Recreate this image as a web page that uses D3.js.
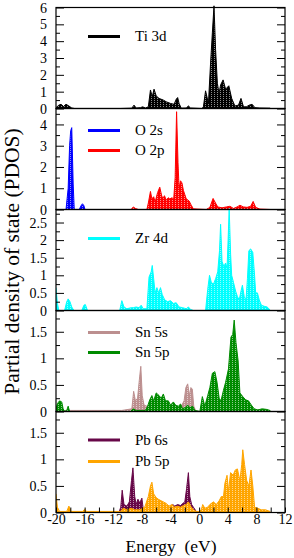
<!DOCTYPE html>
<html><head><meta charset="utf-8">
<script src="https://cdn.jsdelivr.net/npm/d3@7"></script>
<style>body{margin:0;background:#fff}svg{display:block}text{font-family:"Liberation Serif","Times New Roman",serif;fill:#000}</style>
</head><body>
<script>
// ---------- data (Energy eV, PDOS) ----------
const xTicks = [-20,-16,-12,-8,-4,0,4,8,12];
const xMinorTicks = [-20,-18,-16,-14,-12,-10,-8,-6,-4,-2,0,2,4,6,8,10,12];

const ti3d = [[-20,0.05],[-19.6,0.2],[-19.3,0.25],[-18.95,0.12],[-18.6,0.25],[-18.2,0.15],[-17.8,0.03],[-17.4,0],[-11,0],[-9.4,0.02],[-9.1,0.2],[-8.8,0.03],[-8.2,0.05],[-7.9,0.1],[-7.5,0.03],[-7.1,0.1],[-6.8,1.1],[-6.55,0.7],[-6.3,1.15],[-6.0,0.75],[-5.6,0.6],[-5.0,0.5],[-4.6,0.4],[-4.0,0.3],[-3.5,0.25],[-3.2,0.55],[-3.0,0.65],[-2.8,0.3],[-2.5,0.02],[-1.8,0.03],[-1.5,0.15],[-1.2,0.03],[0.4,0],[0.6,0.1],[0.9,1.05],[1.3,0.3],[1.6,2.7],[1.85,4.5],[2.08,6.1],[2.3,3.5],[2.55,1.5],[2.78,0.9],[3.0,1.4],[3.35,1.7],[3.7,1.15],[4.15,1.35],[4.55,0.6],[5.0,0.15],[5.5,0.2],[5.85,0.6],[6.2,0.1],[6.6,0.1],[7.0,0.2],[7.4,0.25],[7.8,0.05],[8.5,0.03],[9.9,0.02],[10,0]];

const o2s = [[-20,0],[-18.6,0],[-18.3,1.0],[-18.1,3.0],[-17.95,3.7],[-17.8,3.85],[-17.6,1.2],[-17.45,0],[-16.75,0],[-16.5,0.18],[-16.3,0.27],[-16.1,0.18],[-15.95,0],[10,0]];
const o2p = [[-20,0],[-9.5,0],[-9.2,0.12],[-8.9,0.05],[-8.5,0],[-7.3,0],[-7.1,0.3],[-6.8,0.85],[-6.6,0.5],[-6.35,0.6],[-6.15,0.35],[-5.8,0.8],[-5.5,1.05],[-5.2,0.6],[-5.0,0.55],[-4.85,0.65],[-4.6,0.45],[-4.3,0.55],[-4.1,0.5],[-3.8,0.55],[-3.55,0.5],[-3.35,1.5],[-3.15,4.6],[-2.95,2.2],[-2.8,1.0],[-2.6,1.35],[-2.4,1.25],[-2.2,0.9],[-1.8,0.5],[-1.4,0.4],[-1.1,0.2],[-0.8,0.03],[1.0,0],[1.5,0.1],[1.95,0.52],[2.3,0.3],[2.6,0.12],[3.2,0.08],[3.8,0.12],[4.3,0.15],[4.8,0.05],[5.3,0.12],[5.7,0.2],[6.2,0.12],[6.7,0.1],[7.2,0.15],[7.55,0.38],[7.9,0.1],[8.5,0.02],[10,0]];

const zr4d = [[-20,0.65],[-19.8,0.2],[-19.6,0],[-18.8,0],[-18.5,0.25],[-18.3,0.33],[-18.05,0.25],[-17.8,0.1],[-17.5,0],[-16.4,0],[-16.1,0.15],[-15.9,0.17],[-15.6,0],[-11.1,0],[-10.8,0.28],[-10.5,0.1],[-10.1,0.05],[-9.5,0.08],[-9.2,0.08],[-8.8,0.1],[-8.4,0.08],[-8.1,0.15],[-7.8,0.05],[-7.3,0.05],[-7.0,0.95],[-6.7,1.1],[-6.55,1.28],[-6.35,0.9],[-6.15,0.5],[-5.9,0.65],[-5.65,0.5],[-5.4,0.65],[-5.15,0.45],[-4.8,0.3],[-4.4,0.25],[-4.0,0.28],[-3.6,0.2],[-3.2,0.22],[-2.8,0.1],[-2.3,0.08],[-1.8,0.05],[-1.5,0.1],[-1.2,0.03],[-0.8,0],[0.9,0],[1.2,0.6],[1.45,1.0],[1.7,0.8],[2.0,0.75],[2.3,0.9],[2.6,1.1],[2.85,1.7],[3.0,2.45],[3.2,1.4],[3.45,1.25],[3.7,1.35],[3.9,1.2],[4.05,2.0],[4.2,2.9],[4.4,1.6],[4.55,1.0],[4.8,0.8],[5.1,0.55],[5.35,0.4],[5.6,0.3],[5.85,0.55],[6.05,0.72],[6.3,0.4],[6.55,0.3],[6.75,0.9],[6.95,1.7],[7.2,1.75],[7.5,1.65],[7.75,1.0],[7.9,0.5],[8.15,0.5],[8.4,0.3],[8.7,0.15],[9.1,0.12],[9.5,0.1],[9.9,0.02],[10,0]];

const sn5s = [[-20,0.02],[-10.8,0.02],[-9.4,0.05],[-9.15,0.38],[-8.9,0.2],[-8.6,0.25],[-8.35,0.6],[-8.15,0.85],[-7.95,0.3],[-7.7,0.12],[-7.3,0.1],[-6.5,0.08],[-5,0.08],[-3.5,0.08],[-2.5,0.1],[-2.1,0.2],[-1.85,0.45],[-1.6,0.52],[-1.35,0.3],[-1.15,0.45],[-0.95,0.42],[-0.75,0.1],[-0.5,0.02],[0,0],[8,0.03],[9.5,0.03],[10,0]];
const sn5p = [[-20,0.05],[-19.8,0.15],[-19.5,0.2],[-19.2,0.18],[-19.0,0.05],[-18.8,0],[-18.5,0.02],[-18.3,0.1],[-18.1,0],[-9.6,0],[-9.2,0.05],[-8.8,0.02],[-7.5,0.02],[-7.2,0.1],[-6.9,0.22],[-6.6,0.3],[-6.35,0.2],[-6.0,0.35],[-5.6,0.3],[-5.3,0.25],[-5.0,0.33],[-4.7,0.2],[-4.3,0.2],[-4.0,0.12],[-3.6,0.18],[-3.3,0.12],[-2.9,0.1],[-2.6,0.14],[-2.3,0.05],[-1.9,0.08],[-1.6,0.12],[-1.3,0.07],[-0.9,0.1],[-0.6,0.02],[0.1,0],[0.45,0.28],[0.8,0.1],[1.2,0.3],[1.5,0.45],[1.85,0.72],[2.2,0.75],[2.5,0.55],[2.8,0.25],[3.05,0.2],[3.4,0.4],[3.7,0.55],[4.1,0.8],[4.45,1.4],[4.7,1.45],[4.9,1.72],[5.15,1.3],[5.45,0.95],[5.7,0.35],[6.1,0.28],[6.5,0.22],[6.9,0.2],[7.3,0.12],[7.7,0.05],[8.2,0.03],[8.8,0.05],[9.4,0.04],[9.9,0.02],[10,0]];

const pb6s = [[-20,0],[-11.2,0],[-10.95,0.1],[-10.75,0.42],[-10.5,0.15],[-10.1,0.12],[-9.75,0.2],[-9.45,0.6],[-9.25,0.84],[-9.0,0.3],[-8.8,0.15],[-8.55,0.25],[-8.3,0.18],[-8.0,0.27],[-7.8,0.05],[-7.5,0],[-4.0,0.02],[-3.7,0.15],[-3.4,0.12],[-3.0,0.15],[-2.6,0.13],[-2.2,0.18],[-2.0,0.2],[-1.75,0.45],[-1.5,0.75],[-1.3,0.3],[-1.05,0.15],[-0.8,0.1],[-0.4,0.02],[0,0],[10,0]];
const pb5p = [[-20,0.35],[-19.8,0.1],[-19.5,0.02],[-18.5,0.02],[-18.2,0.12],[-17.9,0.02],[-16.3,0.02],[-16.0,0.06],[-15.7,0.02],[-11,0.02],[-10.6,0.08],[-10.1,0.05],[-9.5,0.08],[-9,0.05],[-8.3,0.05],[-7.6,0.1],[-7.1,0.3],[-6.8,0.5],[-6.6,0.57],[-6.35,0.35],[-6.0,0.28],[-5.7,0.25],[-5.3,0.22],[-5.0,0.2],[-4.6,0.17],[-4.2,0.12],[-3.8,0.15],[-3.4,0.1],[-3.0,0.12],[-2.6,0.1],[-2.2,0.13],[-1.8,0.15],[-1.5,0.2],[-1.2,0.12],[-0.8,0.05],[-0.4,0.02],[0,0.02],[0.3,0.05],[0.5,0.15],[0.8,0.08],[1.2,0.1],[1.5,0.15],[2.0,0.2],[2.4,0.15],[2.8,0.22],[3.1,0.3],[3.4,0.3],[3.6,0.55],[3.9,0.7],[4.1,0.4],[4.4,0.75],[4.75,0.7],[5.05,0.8],[5.35,0.82],[5.7,0.6],[5.95,0.9],[6.1,1.18],[6.35,0.9],[6.65,0.6],[6.95,0.5],[7.25,0.8],[7.5,0.5],[7.75,0.1],[8.2,0.08],[8.7,0.05],[9.3,0.05],[9.9,0.02],[10,0]];

const seriesNames = ["Ti 3d","O 2s","O 2p","Zr 4d","Sn 5s","Sn 5p","Pb 6s","Pb 5p"];
const seriesColors = ["#000000","#0000ff","#ff0000","#00ffff","#bc8f8f","#008b00","#670748","#ffa500"];
const seriesData = [ti3d,o2s,o2p,zr4d,sn5s,sn5p,pb6s,pb5p];
const panelSeries = [[0],[1,2],[3],[4,5],[6,7]];
const panelYMax = [6,4.75,2.87,1.9,1.9];
const panelMajor = [1,1,0.5,0.5,0.5];
const panelTickMax = [6,4,2.5,1.5,1.5];

// ---------- layout ----------
const W=294,H=558, L=56, R=285, top0=7.5, ph=101;
const legendOffsets = [[29],[22,42],[29],[22,42],[28.5,50]];
const SERIF = "Liberation Serif";

const svg = d3.select("body").append("svg").attr("width",W).attr("height",H);
const defs = svg.append("defs");
seriesColors.forEach((c,i)=>{
  const p = defs.append("pattern").attr("id","pat"+i).attr("patternUnits","userSpaceOnUse")
    .attr("width",3).attr("height",2);
  p.append("rect").attr("width",3).attr("height",2).attr("fill",c);
  p.append("rect").attr("x",1).attr("y",0).attr("width",1).attr("height",1).attr("fill","#fff").attr("opacity",0.55);
});

const x = d3.scaleLinear().domain([-20,12]).range([L,R]);
const fmt = d => String(+d.toFixed(2));

panelSeries.forEach((idxs,pi)=>{
  const t = top0 + pi*ph, b = t+ph;
  const y = d3.scaleLinear().domain([0,panelYMax[pi]]).range([b,t]);
  const g = svg.append("g");
  const clipId = "clip"+pi;
  defs.append("clipPath").attr("id",clipId).append("rect").attr("x",L).attr("y",t-4).attr("width",R-L).attr("height",ph+4);
  const area = d3.area().x(d=>x(d[0])).y0(y(0)).y1(d=>y(d[1]));
  const line = d3.line().x(d=>x(d[0])).y(d=>y(d[1]));
  const dg = g.append("g").attr("clip-path",`url(#${clipId})`);
  idxs.forEach(si=>{
    dg.append("path").attr("d",area(seriesData[si])).attr("fill",`url(#pat${si})`).attr("stroke","none");
    dg.append("path").attr("d",line(seriesData[si])).attr("fill","none").attr("stroke",seriesColors[si]).attr("stroke-width",1);
  });
  const major = d3.range(0,panelTickMax[pi]+1e-9,panelMajor[pi]);
  const minor = d3.range(panelMajor[pi]/2,panelYMax[pi],panelMajor[pi]);
  const axL = g.append("g").attr("transform",`translate(${L},0)`)
    .call(d3.axisLeft(y).tickValues(major).tickFormat(fmt).tickSizeInner(-8).tickSizeOuter(0).tickPadding(9));
  g.append("g").attr("transform",`translate(${L},0)`)
    .call(d3.axisLeft(y).tickValues(minor).tickFormat("").tickSizeInner(-4).tickSizeOuter(0));
  g.append("g").attr("transform",`translate(${R},0)`)
    .call(d3.axisRight(y).tickValues(major).tickFormat("").tickSizeInner(-8).tickSizeOuter(0));
  g.append("g").attr("transform",`translate(${R},0)`)
    .call(d3.axisRight(y).tickValues(minor).tickFormat("").tickSizeInner(-4).tickSizeOuter(0));
  g.selectAll(".domain").remove();
  g.selectAll("g").attr("font-family",SERIF);
  g.selectAll(".tick line").attr("stroke","#000").attr("stroke-width",1);
  axL.selectAll("text").attr("font-size",14).attr("fill","#000").attr("dy","0.33em");
  g.append("rect").attr("x",L).attr("y",t).attr("width",R-L).attr("height",ph)
    .attr("fill","none").attr("stroke","#000").attr("stroke-width",1.2);
  idxs.forEach((si,k)=>{
    const ly = t + legendOffsets[pi][k];
    g.append("line").attr("x1",88).attr("x2",120).attr("y1",ly).attr("y2",ly)
      .attr("stroke",seriesColors[si]).attr("stroke-width",3);
    g.append("text").attr("x",135).attr("y",ly).attr("dy","0.33em").attr("font-size",15)
      .attr("font-family",SERIF).text(seriesNames[si]);
  });
  if(pi===panelSeries.length-1){
    const ax = g.append("g").attr("transform",`translate(0,${b})`)
      .call(d3.axisBottom(x).tickValues(xMinorTicks).tickFormat(d=>xTicks.includes(d)?String(d):"").tickSizeInner(-5).tickSizeOuter(0).tickPadding(1.5));
    ax.attr("font-family",SERIF);
    ax.select(".domain").remove();
    ax.selectAll(".tick line").attr("stroke","#000");
    ax.selectAll("text").attr("font-size",14).attr("fill","#000");
  }
});

svg.append("text").attr("x",171).attr("y",551.5).attr("text-anchor","middle").attr("font-size",17.5)
  .attr("font-family",SERIF).style("white-space","pre").text("Energy  (eV)");
svg.append("text").attr("transform","translate(18.5,261.5) rotate(-90)").attr("text-anchor","middle")
  .attr("font-size",21.5).attr("font-family",SERIF).text("Partial density of state (PDOS)");
</script>
</body></html>
